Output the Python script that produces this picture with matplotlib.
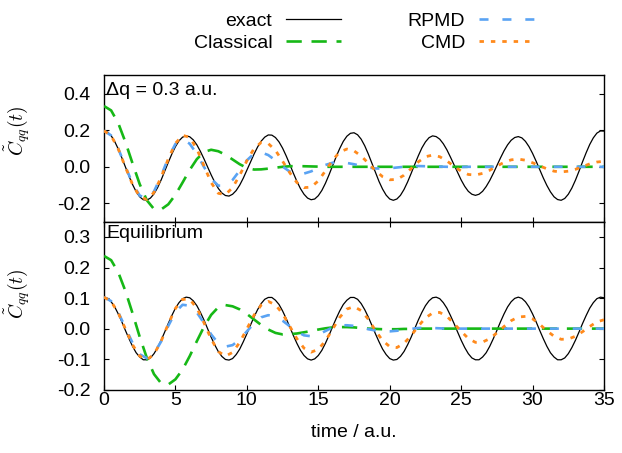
import numpy as np
import matplotlib
matplotlib.use("Agg")
import matplotlib.pyplot as plt
from matplotlib.ticker import FixedLocator, FormatStrFormatter

plt.rcParams['font.family'] = ['Liberation Sans', 'DejaVu Sans']
plt.rcParams['axes.unicode_minus'] = False
plt.rcParams['mathtext.fontset'] = 'cm'
plt.rcParams['lines.scale_dashes'] = False

# time grids (a.u.): the exact curves are tabulated twice as densely
time = np.arange(0.0, 35.01, 0.5)
time_fine = np.arange(0.0, 35.001, 0.25)

# ---- Delta q = 0.3 a.u. ----
exact_dq = [
    0.197, 0.190, 0.170, 0.138, 0.097, 0.049, -0.001, -0.051, -0.097, -0.136, -0.164, -0.180,
    -0.182, -0.171, -0.148, -0.114, -0.072, -0.024, 0.024, 0.070, 0.110, 0.142, 0.162, 0.169,
    0.164, 0.147, 0.120, 0.084, 0.043, -0.001, -0.044, -0.084, -0.118, -0.143, -0.157, -0.160,
    -0.150, -0.130, -0.100, -0.062, -0.019, 0.025, 0.069, 0.108, 0.140, 0.162, 0.174, 0.173,
    0.160, 0.136, 0.102, 0.060, 0.014, -0.034, -0.079, -0.119, -0.150, -0.171, -0.180, -0.176,
    -0.158, -0.129, -0.090, -0.044, 0.005, 0.055, 0.100, 0.139, 0.167, 0.183, 0.186, 0.175,
    0.151, 0.115, 0.070, 0.020, -0.031, -0.080, -0.122, -0.155, -0.176, -0.183, -0.176, -0.156,
    -0.124, -0.083, -0.036, 0.013, 0.060, 0.103, 0.136, 0.159, 0.169, 0.165, 0.151, 0.126,
    0.093, 0.053, 0.011, -0.032, -0.072, -0.107, -0.134, -0.150, -0.156, -0.150, -0.134, -0.108,
    -0.075, -0.036, 0.006, 0.048, 0.087, 0.120, 0.145, 0.160, 0.165, 0.158, 0.139, 0.110,
    0.073, 0.030, -0.015, -0.061, -0.102, -0.137, -0.164, -0.179, -0.183, -0.173, -0.150, -0.116,
    -0.073, -0.024, 0.028, 0.077, 0.122, 0.158, 0.184, 0.196, 0.195,
]
classical_dq = [
    0.332, 0.308, 0.238, 0.135, 0.018, -0.095,
    -0.183, -0.231, -0.233, -0.205, -0.153, -0.086,
    -0.017, 0.042, 0.081, 0.093, 0.085, 0.066,
    0.040, 0.014, -0.006, -0.015, -0.014, -0.010,
    -0.005, 0.000, 0.003, 0.004, 0.003, 0.002,
    0.001, 0.000, 0.000, 0.000, 0.000,
    0.000, 0.000, 0.000, 0.000, 0.000, 0.000,
    0.000, 0.000, 0.000, 0.000, 0.000, 0.000,
    0.000, 0.000, 0.000, 0.000, 0.000, 0.000,
    0.000, 0.000, 0.000, 0.000, 0.000, 0.000,
    0.000, 0.000, 0.000, 0.000, 0.000,
    0.000, 0.000, 0.000, 0.000, 0.000, 0.000, 0.000,
]
rpmd_dq = [
    0.197, 0.171, 0.099, 0.002, -0.092, -0.157,
    -0.175, -0.135, -0.050, 0.049, 0.125, 0.150,
    0.126, 0.070, -0.001, -0.065, -0.103, -0.104,
    -0.072, -0.020, 0.035, 0.072, 0.079, 0.064,
    0.035, 0.001, -0.026, -0.040, -0.037, -0.025,
    -0.008, 0.010, 0.022, 0.025, 0.021,
    0.014, 0.005, -0.004, -0.009, -0.010, -0.008,
    -0.004, 0.000, 0.003, 0.004, 0.003, 0.002,
    0.001, 0.000, -0.001, -0.001, 0.000, 0.000,
    0.000, 0.000, 0.000, 0.000, 0.000, 0.000,
    0.000, 0.000, 0.000, 0.000, 0.000,
    0.000, 0.000, 0.000, 0.000, 0.000, 0.000, 0.000,
]
cmd_dq = [
    0.197, 0.170, 0.097, -0.002, -0.097, -0.163,
    -0.179, -0.140, -0.057, 0.043, 0.128, 0.172,
    0.161, 0.098, 0.005, -0.086, -0.145, -0.152,
    -0.114, -0.046, 0.033, 0.099, 0.133, 0.127,
    0.090, 0.031, -0.032, -0.086, -0.114, -0.111,
    -0.077, -0.022, 0.036, 0.081, 0.097,
    0.087, 0.059, 0.020, -0.021, -0.054, -0.071,
    -0.069, -0.046, -0.010, 0.027, 0.055, 0.064,
    0.055, 0.032, 0.003, -0.024, -0.042, -0.045,
    -0.036, -0.019, 0.004, 0.024, 0.038, 0.042,
    0.036, 0.022, 0.005, -0.011, -0.024,
    -0.028, -0.024, -0.014, 0.001, 0.016, 0.026, 0.030,
]

# ---- equilibrium ----
exact_eq = [
    0.103, 0.099, 0.088, 0.071, 0.048, 0.022, -0.006, -0.033, -0.058, -0.079, -0.093, -0.102,
    -0.102, -0.096, -0.082, -0.062, -0.038, -0.011, 0.017, 0.043, 0.067, 0.085, 0.098, 0.103,
    0.101, 0.091, 0.075, 0.053, 0.028, 0.000, -0.028, -0.053, -0.075, -0.091, -0.101, -0.103,
    -0.098, -0.085, -0.067, -0.043, -0.017, 0.011, 0.038, 0.062, 0.082, 0.096, 0.102, 0.102,
    0.093, 0.079, 0.058, 0.033, 0.006, -0.022, -0.048, -0.071, -0.088, -0.099, -0.103, -0.099,
    -0.088, -0.071, -0.048, -0.022, 0.006, 0.033, 0.058, 0.079, 0.093, 0.102, 0.102, 0.096,
    0.082, 0.062, 0.038, 0.011, -0.017, -0.043, -0.067, -0.085, -0.098, -0.103, -0.101, -0.091,
    -0.075, -0.053, -0.028, 0.000, 0.028, 0.053, 0.075, 0.091, 0.101, 0.103, 0.098, 0.085,
    0.067, 0.043, 0.017, -0.011, -0.038, -0.062, -0.082, -0.096, -0.102, -0.102, -0.093, -0.079,
    -0.058, -0.033, -0.006, 0.022, 0.048, 0.071, 0.088, 0.099, 0.103, 0.099, 0.088, 0.071,
    0.048, 0.022, -0.006, -0.033, -0.058, -0.079, -0.093, -0.102, -0.102, -0.096, -0.082, -0.062,
    -0.038, -0.011, 0.017, 0.043, 0.067, 0.085, 0.098, 0.103, 0.101,
]
classical_eq = [
    0.238, 0.224, 0.184, 0.123, 0.050, -0.027,
    -0.096, -0.149, -0.179, -0.183, -0.166, -0.134,
    -0.090, -0.041, 0.006, 0.045, 0.070, 0.077,
    0.073, 0.063, 0.048, 0.030, 0.012, -0.003,
    -0.014, -0.019, -0.018, -0.016, -0.012, -0.008,
    -0.003, 0.001, 0.004, 0.005, 0.005,
    0.004, 0.002, 0.000, -0.001, -0.002, -0.002,
    -0.002, -0.001, -0.001, 0.000, 0.000, 0.000,
    0.000, 0.000, 0.000, 0.000, 0.000, 0.000,
    0.000, 0.000, 0.000, 0.000, 0.000, 0.000,
    0.000, 0.000, 0.000, 0.000, 0.000,
    0.000, 0.000, 0.000, 0.000, 0.000, 0.000, 0.000,
]
rpmd_eq = [
    0.103, 0.090, 0.053, 0.003, -0.047, -0.084,
    -0.097, -0.082, -0.042, 0.009, 0.054, 0.078,
    0.075, 0.053, 0.018, -0.019, -0.048, -0.059,
    -0.054, -0.036, -0.009, 0.017, 0.037, 0.044,
    0.039, 0.026, 0.008, -0.010, -0.022, -0.025,
    -0.019, -0.008, 0.004, 0.011, 0.011,
    0.009, 0.004, -0.002, -0.006, -0.009, -0.009,
    -0.007, -0.004, -0.001, 0.002, 0.003, 0.002,
    0.001, 0.000, 0.000, 0.000, 0.000, 0.000,
    0.000, 0.000, 0.000, 0.000, 0.000, 0.000,
    0.000, 0.000, 0.000, 0.000, 0.000,
    0.000, 0.000, 0.000, 0.000, 0.000, 0.000, 0.000,
]
cmd_eq = [
    0.103, 0.089, 0.051, -0.001, -0.053, -0.090,
    -0.102, -0.084, -0.041, 0.015, 0.066, 0.096,
    0.096, 0.067, 0.019, -0.034, -0.075, -0.090,
    -0.078, -0.045, -0.001, 0.044, 0.077, 0.089,
    0.078, 0.049, 0.008, -0.033, -0.064, -0.077,
    -0.068, -0.040, -0.002, 0.037, 0.064,
    0.072, 0.059, 0.031, -0.006, -0.039, -0.059,
    -0.062, -0.048, -0.023, 0.008, 0.035, 0.051,
    0.053, 0.040, 0.017, -0.009, -0.032, -0.045,
    -0.044, -0.033, -0.014, 0.007, 0.026, 0.038,
    0.040, 0.032, 0.014, -0.007, -0.025,
    -0.035, -0.034, -0.025, -0.010, 0.007, 0.022, 0.029,
]

labels = ["exact", "Classical", "RPMD", "CMD"]
styles = {
    "exact": dict(color="black", lw=0.9, ls="-"),
    "Classical": dict(color="#16b816", lw=1.9, dashes=(11, 7)),
    "RPMD": dict(color="#5aa3f3", lw=1.9, dashes=(6.5, 10)),
    "CMD": dict(color="#ff8a1c", lw=2.0, dashes=(3.2, 5)),
}
grids = {"exact": time_fine, "Classical": time, "RPMD": time, "CMD": time}
panels = [
    dict(series=[exact_dq, classical_dq, rpmd_dq, cmd_dq], title="\u0394q = 0.3 a.u.",
         ylim=(-0.3, 0.5), yticks=[-0.2, 0.0, 0.2, 0.4], title_y=0.955),
    dict(series=[exact_eq, classical_eq, rpmd_eq, cmd_eq], title="Equilibrium",
         ylim=(-0.2, 0.35), yticks=[-0.2, -0.1, 0.0, 0.1, 0.2, 0.3], title_y=0.98),
]

FS = 14
fig = plt.figure(figsize=(6.22, 4.53), dpi=100)
ax_top = fig.add_axes([0.1672, 0.5106, 0.8039, 0.3232])
ax_bot = fig.add_axes([0.1672, 0.1397, 0.8039, 0.3709], sharex=ax_top)
axes = [ax_top, ax_bot]

handles = []
for ax, panel in zip(axes, panels):
    for z, (name, values) in enumerate(zip(labels, panel["series"])):
        line, = ax.plot(grids[name], values, label=name, zorder=2 + z, **styles[name])
        if ax is ax_top:
            handles.append(line)
    ax.set_xlim(0, 35)
    ax.set_ylim(*panel["ylim"])
    ax.yaxis.set_major_locator(FixedLocator(panel["yticks"]))
    ax.yaxis.set_major_formatter(FormatStrFormatter("%.1f"))
    ax.xaxis.set_major_locator(FixedLocator([0, 5, 10, 15, 20, 25, 30, 35]))
    ax.xaxis.set_major_formatter(FormatStrFormatter("%g"))
    ax.tick_params(direction="in", length=3.6, width=0.8, labelsize=FS,
                   right=True, left=True, bottom=True)
    ax.tick_params(axis="y", pad=9.5)
    ax.tick_params(axis="x", pad=1.5)
    for sp in ax.spines.values():
        sp.set_linewidth(1.0)
    ax.text(0.004, panel["title_y"], panel["title"], transform=ax.transAxes,
            ha="left", va="top", fontsize=FS)

ax_top.tick_params(top=False, labelbottom=False)
ax_bot.tick_params(top=True)
ax_bot.set_xlabel("time / a.u.", fontsize=FS, labelpad=11)

ylab = r"$\tilde{C}_{qq}(t)$"
fig.text(17 / 622, 1 - 131 / 453, ylab, rotation=90, ha="center", va="center", fontsize=FS)
fig.text(17 / 622, 1 - 294 / 453, ylab, rotation=90, ha="center", va="center", fontsize=FS)

fig.legend(handles, labels, ncol=2, markerfirst=False, frameon=False,
           loc="center", bbox_to_anchor=(0.585, 0.929), fontsize=FS,
           handlelength=2.85, handletextpad=0.7, columnspacing=3.4,
           labelspacing=0.2, borderpad=0)

fig.savefig("out.png", dpi=100)
